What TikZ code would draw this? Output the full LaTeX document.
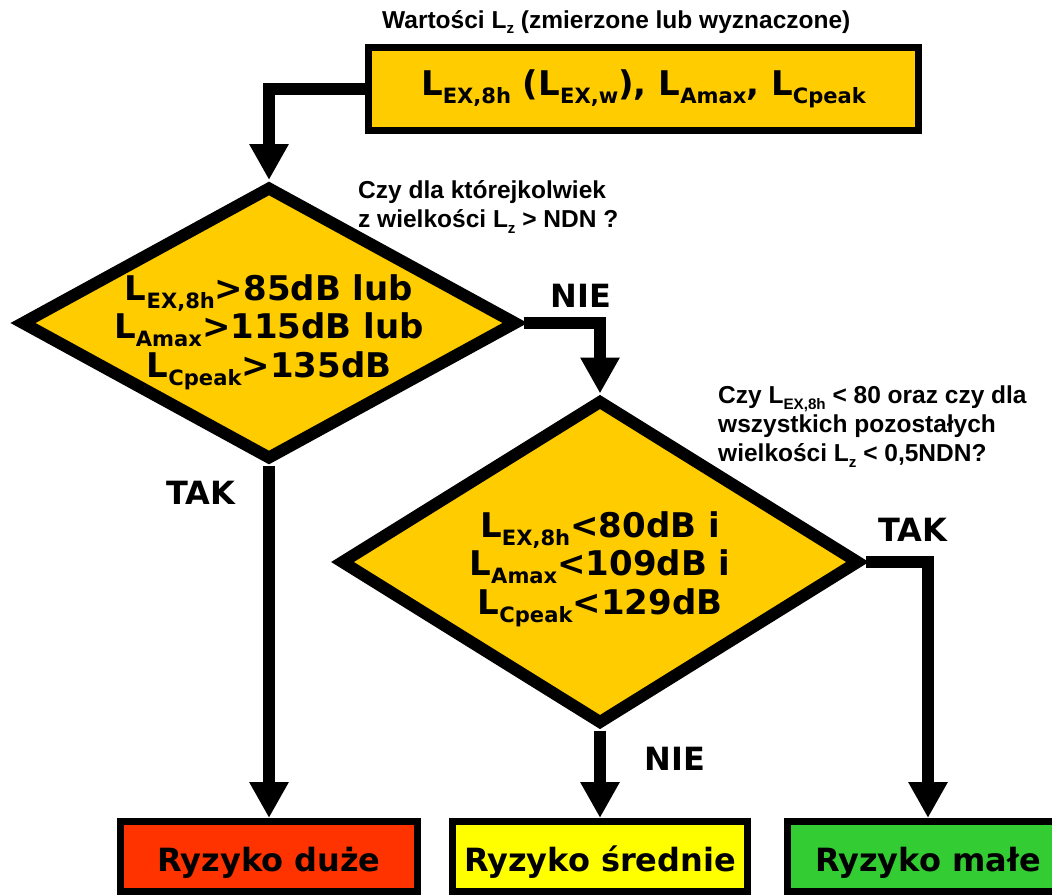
\documentclass[tikz,border=0pt]{standalone}
\usepackage{fontspec}
\usepackage{graphicx}
\usetikzlibrary{shapes.geometric,arrows.meta}
\newfontfamily\dv{DejaVu Sans}
\newfontfamily\ar{Liberation Sans}
\definecolor{gold}{HTML}{FFCC00}
\definecolor{rred}{HTML}{FF3300}
\definecolor{ryel}{HTML}{FFFF00}
\definecolor{rgrn}{HTML}{33CC33}
\newcommand\lsub[1]{\raisebox{-0.24em}{\scalebox{0.62}{#1}}}
\begin{document}
\begin{tikzpicture}[x=1pt,y=-1pt,
  dia/.style={diamond, draw=black, fill=gold, line width=12pt, inner sep=0pt, line join=miter},
  bigtxt/.style={font=\dv\bfseries\fontsize{34}{38.5}\selectfont, align=center, inner sep=0pt},
  qtxt/.style={font=\ar\bfseries\fontsize{24.5}{29}\selectfont, align=left, inner sep=0pt, anchor=north west},
  lab/.style={font=\dv\bfseries\fontsize{32}{38}\selectfont, inner sep=0pt},
  rbox/.style={rectangle, draw=black, line width=7pt, inner sep=0pt, minimum height=70pt,
    text height=32pt, text depth=1.6pt, font=\dv\bfseries\fontsize{32}{38}\selectfont},
  conn/.style={line width=12pt, line join=miter, -{Triangle[width=37pt,length=36pt]}},
]
\useasboundingbox (0,0) rectangle (1052,895);

% top input
\node[anchor=base west, inner sep=0pt, font=\ar\bfseries\fontsize{24.5}{29}\selectfont] (ttl) at (382,28)
  {Wartości L\lsub{z} (zmierzone lub wyznaczone)};
\node[rectangle, draw=black, line width=7pt, fill=gold, minimum width=550pt, minimum height=83pt,
  inner sep=0pt, font=\dv\bfseries\fontsize{34}{38.5}\selectfont] (top) at (643.5,89)
  {L\lsub{EX,8h} (L\lsub{EX,w}), L\lsub{Amax}, L\lsub{Cpeak}};

% decision 1
\node[dia, minimum width=497pt, minimum height=274pt] (d1) at (269,323) {};
\node[bigtxt] (d1t) at (269,332) {L\lsub{EX,8h}>85dB lub\\L\lsub{Amax}>115dB lub\\L\lsub{Cpeak}>135dB};
\node[qtxt] (q1) at (358,180) {Czy dla którejkolwiek\\z wielkości L\lsub{z} > NDN ?};

% decision 2
\node[dia, minimum width=520pt, minimum height=325pt] (d2) at (600,562) {};
\node[bigtxt] (d2t) at (600,569) {L\lsub{EX,8h}<80dB i\\L\lsub{Amax}<109dB i\\L\lsub{Cpeak}<129dB};
\node[qtxt] (q2) at (718,386) {Czy L\lsub{EX,8h} < 80 oraz czy dla\\wszystkich pozostałych\\wielkości L\lsub{z} < 0,5NDN?};

% results
\node[rbox, fill=rred, minimum width=297pt] (b1) at (269,856.5) {Ryzyko duże};
\node[rbox, fill=ryel, minimum width=295pt] (b2) at (600,856.5) {Ryzyko średnie};
\node[rbox, fill=rgrn, minimum width=281pt] (b3) at (928,856.5) {Ryzyko małe};

% labels
\node[lab] (nie1) at (581,296) {NIE};
\node[lab] (tak1) at (201,493) {TAK};
\node[lab] (tak2) at (913,530) {TAK};
\node[lab] (nie2) at (675,759) {NIE};

% connectors
\draw[conn] (top.west) -| (d1.north);
\draw[conn] (d1.east) -| (d2.north);
\draw[conn] (d1.south) -- (b1.north);
\draw[conn] (d2.east) -| (b3.north);
\draw[conn] (d2.south) -- (b2.north);
\end{tikzpicture}
\end{document}
